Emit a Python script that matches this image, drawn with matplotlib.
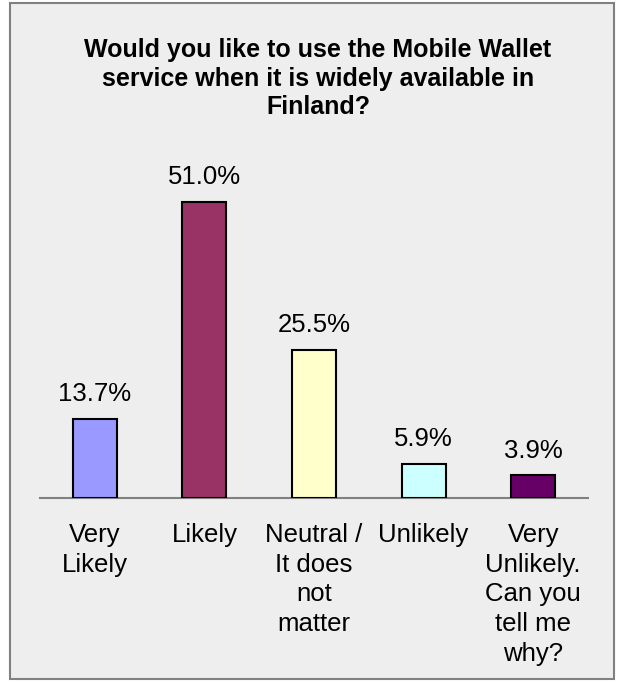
import matplotlib
matplotlib.use('Agg')
from matplotlib import pyplot as plt
from matplotlib.patches import Rectangle

categories = ['Very\nLikely', 'Likely', 'Neutral /\nIt does\nnot\nmatter', 'Unlikely',
              'Very\nUnlikely.\nCan you\ntell me\nwhy?']
values = [13.7, 51.0, 25.5, 5.9, 3.9]
bar_colors = ['#9999FF', '#993366', '#FFFFCC', '#CCFFFF', '#660066']
title = 'Would you like to use the Mobile Wallet\nservice when it is widely available in\nFinland?'

plt.rcParams['font.family'] = ['Liberation Sans', 'DejaVu Sans']

fig = plt.figure(figsize=(6.25, 6.82), dpi=100)
fig.patch.set_facecolor('white')

# chart area background with grey border
fig.patches.append(Rectangle((10/625, 3/682), 604/625, 676/682, transform=fig.transFigure,
                             facecolor='#EEEEEE', edgecolor='#808080', linewidth=1.5, zorder=-5))

ax = fig.add_axes([40/625, (682-498)/682, 548/625, 348/682])
ax.set_facecolor('none')

x = range(len(values))
ax.bar(x, values, width=0.4, color=bar_colors, edgecolor='black', linewidth=1.5, zorder=3)
for i, v in enumerate(values):
    ax.text(i, v + 2.2, '%.1f%%' % v, ha='center', va='bottom', fontsize=18.5)

ax.set_xlim(-0.5, len(values) - 0.5)
ax.set_ylim(0, 60)
ax.set_xticks(list(x))
ax.set_xticklabels(categories, fontsize=18.5, linespacing=1.3, va='top')
ax.tick_params(axis='x', length=0, pad=18)
ax.set_yticks([])
for s in ['top', 'right', 'left']:
    ax.spines[s].set_visible(False)
ax.spines['bottom'].set_color('#808080')
ax.spines['bottom'].set_linewidth(1.5)

fig.text(318/625, 1 - 38/682, title, ha='center', va='top', fontsize=18,
         fontweight='bold', linespacing=1.25)

plt.savefig('out.png', dpi=100)
